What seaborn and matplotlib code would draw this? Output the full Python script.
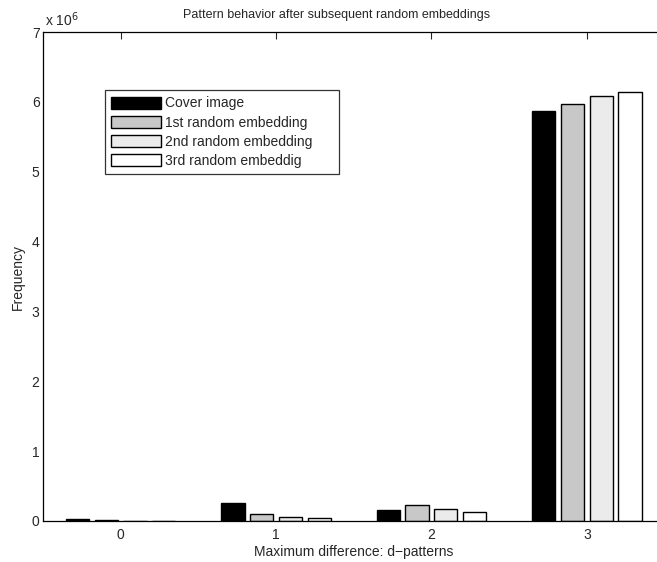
import numpy as np
import pandas as pd
import matplotlib
matplotlib.use("Agg")
import matplotlib.pyplot as plt
import seaborn as sns
from matplotlib.ticker import FuncFormatter

categories = [0, 1, 2, 3]
series_names = ["Cover image", "1st random embedding", "2nd random embedding", "3rd random embeddig"]
cover = [0.024e6, 0.26e6, 0.157e6, 5.866e6]
emb1 = [0.010e6, 0.096e6, 0.225e6, 5.976e6]
emb2 = [0.006e6, 0.057e6, 0.167e6, 6.08e6]
emb3 = [0.005e6, 0.038e6, 0.124e6, 6.137e6]
ytick_vals = [0, 1, 2, 3, 4, 5, 6, 7]

colors = ["#000000", "#c8c8c8", "#ebebeb", "#ffffff"]

rows = []
for name, vals in zip(series_names, [cover, emb1, emb2, emb3]):
    for c, v in zip(categories, vals):
        rows.append({"cat": c, "series": name, "value": v})
df = pd.DataFrame(rows)

sns.set_style("white")
plt.rcParams["font.family"] = ["Liberation Sans", "DejaVu Sans"]
plt.rcParams["font.size"] = 10

fig = plt.figure(figsize=(6.57, 5.62), dpi=100)
ax = fig.add_axes([43/657, 41/562, 621.5/657, 489/562])

sns.barplot(data=df, x="cat", y="value", hue="series", hue_order=series_names,
            palette=colors, width=0.74, gap=0.19, edgecolor="black", linewidth=1.0,
            saturation=1, errorbar=None, ax=ax)

ax.set_xlim(-0.5, 3.5)
ax.set_ylim(0, 7e6)
ax.set_yticks([v * 1e6 for v in ytick_vals])
ax.yaxis.set_major_formatter(FuncFormatter(lambda v, p: f"{v/1e6:g}"))
ax.set_xticks(range(len(categories)))
ax.set_xticklabels([str(c) for c in categories])
ax.tick_params(direction="in", length=5, width=0.8, top=True, right=True, labelsize=10)
ax.tick_params(axis="y", pad=2.5)
ax.tick_params(axis="x", pad=5)
for s in ax.spines.values():
    s.set_visible(True)
    s.set_linewidth(0.9)
    s.set_color("black")

ax.set_xlabel("Maximum difference: d\u2212patterns", fontsize=10, labelpad=2)
ax.set_ylabel("Frequency", fontsize=10, labelpad=5)
ax.set_title("Pattern behavior after subsequent random embeddings", fontsize=9, pad=10, x=0.473)
ax.text(2/621.5, 1.006, "x 10$^{6}$", transform=ax.transAxes, fontsize=10, va="bottom", ha="left")

leg = ax.legend(loc="upper left", bbox_to_anchor=(62/621.5, 1 - 63/489, 234/621.5, 0.01),
                mode="expand", frameon=True,
                fancybox=False, edgecolor="black", fontsize=10, handlelength=3.6,
                handleheight=0.95, labelspacing=0.38, borderpad=0.45, handletextpad=0.3,
                borderaxespad=0)
leg.get_frame().set_linewidth(0.9)

fig.savefig("out.png", dpi=100)
